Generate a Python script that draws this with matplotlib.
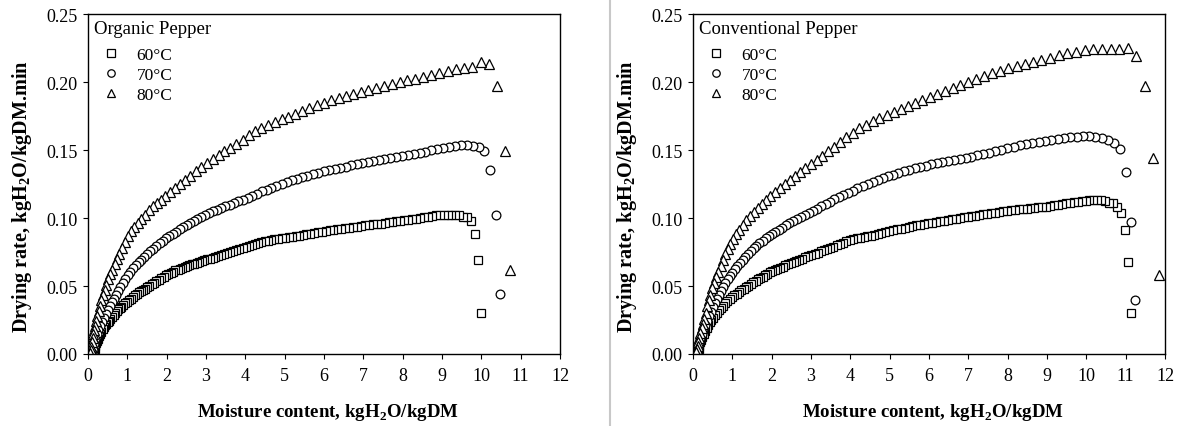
import matplotlib
matplotlib.use("Agg")
import matplotlib.pyplot as plt
from matplotlib.lines import Line2D

plt.rcParams['font.family'] = ['Liberation Serif', 'DejaVu Serif']
plt.rcParams['mathtext.fontset'] = 'custom'
plt.rcParams['mathtext.rm'] = 'Liberation Serif'
plt.rcParams['mathtext.bf'] = 'Liberation Serif:bold'

# (moisture content, drying rate)
org_60 = [
    (10.00, 0.030), (9.92, 0.069), (9.84, 0.088), (9.74, 0.0975), (9.64, 0.1005), (9.54, 0.101),
    (9.44, 0.102), (9.34, 0.1022), (9.24, 0.1024), (9.14, 0.1025), (9.04, 0.1025), (8.94, 0.1024),
    (8.84, 0.1020), (8.74, 0.1015), (8.64, 0.1010), (8.54, 0.1005), (8.44, 0.1000), (8.34, 0.0995),
    (8.24, 0.0990), (8.14, 0.0986), (8.04, 0.0983), (7.94, 0.0981), (7.84, 0.0978), (7.74, 0.0973),
    (7.64, 0.0968), (7.54, 0.0963), (7.44, 0.0958), (7.34, 0.0955), (7.24, 0.0953), (7.14, 0.0950),
    (7.04, 0.0945), (6.94, 0.0940), (6.84, 0.0935), (6.74, 0.0932), (6.64, 0.0928), (6.54, 0.0924),
    (6.44, 0.0920), (6.34, 0.0917), (6.24, 0.0913), (6.14, 0.0910), (6.04, 0.0905), (5.94, 0.0900),
    (5.84, 0.0895), (5.74, 0.0890), (5.64, 0.0885), (5.55, 0.0880), (5.46, 0.0875), (5.37, 0.0870),
    (5.28, 0.0866), (5.19, 0.0862), (5.10, 0.0858), (5.01, 0.0855), (4.92, 0.0852), (4.83, 0.0849),
    (4.74, 0.0846), (4.65, 0.0840), (4.57, 0.0834), (4.49, 0.0828), (4.41, 0.0822), (4.33, 0.0815),
    (4.25, 0.0808), (4.17, 0.0800), (4.09, 0.0792), (4.01, 0.0784), (3.93, 0.0777), (3.85, 0.0771),
    (3.77, 0.0764), (3.69, 0.0757), (3.61, 0.0750), (3.53, 0.0743), (3.45, 0.0736), (3.38, 0.0729),
    (3.31, 0.0723), (3.24, 0.0716), (3.17, 0.0709), (3.10, 0.0702), (3.03, 0.0695), (2.96, 0.0689),
    (2.89, 0.0682), (2.83, 0.0676), (2.77, 0.0670), (2.70, 0.0664), (2.64, 0.0660), (2.58, 0.0654),
    (2.52, 0.0647), (2.46, 0.0641), (2.40, 0.0635), (2.34, 0.0628), (2.28, 0.0621), (2.22, 0.0614),
    (2.16, 0.0606), (2.10, 0.0598), (2.04, 0.0588), (1.98, 0.0578), (1.92, 0.0567), (1.86, 0.0556),
    (1.80, 0.0545), (1.74, 0.0534), (1.68, 0.0523), (1.62, 0.0512), (1.56, 0.0501), (1.50, 0.0490),
    (1.45, 0.0481), (1.40, 0.0472), (1.35, 0.0463), (1.30, 0.0454), (1.25, 0.0443), (1.20, 0.0431),
    (1.15, 0.0420), (1.10, 0.0408), (1.05, 0.0396), (1.00, 0.0384), (0.95, 0.0372), (0.90, 0.0361),
    (0.85, 0.0349), (0.81, 0.0339), (0.77, 0.0330), (0.73, 0.0316), (0.69, 0.0302), (0.65, 0.0288),
    (0.61, 0.0274), (0.57, 0.0260), (0.53, 0.0246), (0.50, 0.0235), (0.47, 0.0224), (0.43, 0.0210),
    (0.40, 0.0196), (0.37, 0.0181), (0.34, 0.0165), (0.31, 0.0148), (0.28, 0.0130), (0.25, 0.0110),
    (0.23, 0.0095), (0.21, 0.0078), (0.19, 0.0060), (0.17, 0.0040), (0.15, 0.0015),
]
org_70 = [
    (10.47, 0.044), (10.37, 0.102), (10.22, 0.135), (10.08, 0.149), (9.93, 0.1524), (9.78, 0.1532),
    (9.63, 0.1536), (9.48, 0.1537), (9.33, 0.1532), (9.18, 0.1525), (9.03, 0.1516), (8.88, 0.1507),
    (8.73, 0.1497), (8.58, 0.1488), (8.43, 0.1479), (8.28, 0.1470), (8.13, 0.1462), (7.98, 0.1454),
    (7.83, 0.1446), (7.68, 0.1439), (7.53, 0.1433), (7.39, 0.1427), (7.25, 0.1420), (7.11, 0.1412),
    (6.97, 0.1404), (6.83, 0.1395), (6.69, 0.1387), (6.55, 0.1378), (6.41, 0.1370), (6.27, 0.1361),
    (6.13, 0.1351), (5.99, 0.1342), (5.85, 0.1332), (5.71, 0.1321), (5.57, 0.1310), (5.44, 0.1300),
    (5.31, 0.1289), (5.18, 0.1277), (5.05, 0.1265), (4.92, 0.1250), (4.79, 0.1236), (4.66, 0.1222),
    (4.54, 0.1209), (4.42, 0.1195), (4.30, 0.1180), (4.18, 0.1165), (4.06, 0.1150), (3.94, 0.1135),
    (3.82, 0.1122), (3.71, 0.1110), (3.60, 0.1098), (3.49, 0.1086), (3.38, 0.1074), (3.28, 0.1062),
    (3.18, 0.1048), (3.08, 0.1034), (2.98, 0.1019), (2.88, 0.1004), (2.78, 0.0989), (2.69, 0.0975),
    (2.60, 0.0962), (2.51, 0.0947), (2.42, 0.0932), (2.33, 0.0916), (2.24, 0.0900), (2.15, 0.0883),
    (2.06, 0.0866), (1.98, 0.0850), (1.90, 0.0832), (1.82, 0.0813), (1.74, 0.0794), (1.66, 0.0775),
    (1.58, 0.0755), (1.50, 0.0733), (1.43, 0.0713), (1.36, 0.0693), (1.29, 0.0676), (1.22, 0.0655),
    (1.15, 0.0630), (1.08, 0.0605), (1.01, 0.0578), (0.94, 0.0550), (0.88, 0.0522), (0.82, 0.0494),
    (0.76, 0.0465), (0.70, 0.0437), (0.65, 0.0408), (0.60, 0.0380), (0.55, 0.0352), (0.50, 0.0323),
    (0.45, 0.0295), (0.40, 0.0266), (0.35, 0.0236), (0.30, 0.0205), (0.26, 0.0180), (0.22, 0.0150),
    (0.18, 0.0110), (0.15, 0.0070), (0.12, 0.0030), (0.10, 0.0005),
]
org_80 = [
    (10.74, 0.062), (10.59, 0.149), (10.39, 0.197), (10.20, 0.213), (9.98, 0.2145), (9.77, 0.2110),
    (9.56, 0.2100), (9.35, 0.2092), (9.14, 0.2079), (8.93, 0.2066), (8.72, 0.2053), (8.52, 0.2040),
    (8.32, 0.2025), (8.12, 0.2012), (7.92, 0.2000), (7.72, 0.1983), (7.52, 0.1967), (7.32, 0.1953),
    (7.13, 0.1940), (6.94, 0.1927), (6.75, 0.1913), (6.56, 0.1898), (6.37, 0.1883), (6.18, 0.1866),
    (5.99, 0.1848), (5.81, 0.1829), (5.63, 0.1809), (5.45, 0.1789), (5.27, 0.1768), (5.09, 0.1746),
    (4.92, 0.1725), (4.75, 0.1705), (4.58, 0.1684), (4.41, 0.1662), (4.25, 0.1638), (4.09, 0.1613),
    (3.93, 0.1570), (3.77, 0.1543), (3.62, 0.1516), (3.47, 0.1489), (3.32, 0.1462), (3.17, 0.1434),
    (3.02, 0.1405), (2.88, 0.1375), (2.74, 0.1344), (2.60, 0.1312), (2.47, 0.1282), (2.34, 0.1252),
    (2.21, 0.1221), (2.09, 0.1191), (1.97, 0.1162), (1.86, 0.1136), (1.75, 0.1111), (1.64, 0.1085),
    (1.54, 0.1057), (1.44, 0.1025), (1.35, 0.0995), (1.26, 0.0965), (1.17, 0.0935), (1.09, 0.0903),
    (1.01, 0.0868), (0.94, 0.0822), (0.87, 0.0780), (0.80, 0.0738), (0.74, 0.0700), (0.68, 0.0660),
    (0.62, 0.0620), (0.57, 0.0585), (0.52, 0.0550), (0.47, 0.0510), (0.42, 0.0468), (0.38, 0.0432),
    (0.34, 0.0395), (0.305, 0.0355), (0.27, 0.0318), (0.24, 0.0283), (0.21, 0.0245), (0.18, 0.0208),
    (0.155, 0.0175), (0.135, 0.0150), (0.115, 0.0120), (0.095, 0.0085), (0.08, 0.0055), (0.07, 0.0030),
    (0.06, 0.0010),
]
conv_60 = [
    (11.14, 0.030), (11.07, 0.068), (10.98, 0.091), (10.88, 0.104), (10.78, 0.108), (10.68, 0.111),
    (10.58, 0.1112), (10.48, 0.1122), (10.38, 0.1130), (10.28, 0.1135), (10.18, 0.1136), (10.08, 0.1133),
    (9.98, 0.1128), (9.88, 0.1123), (9.78, 0.1119), (9.68, 0.1115), (9.58, 0.1111), (9.48, 0.1107),
    (9.38, 0.1103), (9.28, 0.1099), (9.18, 0.1094), (9.08, 0.1089), (8.98, 0.1084), (8.88, 0.1081),
    (8.78, 0.1078), (8.68, 0.1075), (8.58, 0.1072), (8.48, 0.1069), (8.38, 0.1066), (8.28, 0.1063),
    (8.18, 0.1060), (8.08, 0.1057), (7.98, 0.1053), (7.88, 0.1049), (7.78, 0.1045), (7.68, 0.1040),
    (7.58, 0.1035), (7.48, 0.1030), (7.38, 0.1026), (7.28, 0.1022), (7.18, 0.1017), (7.08, 0.1013),
    (6.98, 0.1008), (6.88, 0.1004), (6.78, 0.0999), (6.68, 0.0995), (6.58, 0.0990), (6.48, 0.0985),
    (6.38, 0.0980), (6.28, 0.0975), (6.18, 0.0970), (6.08, 0.0965), (5.98, 0.0960), (5.88, 0.0955),
    (5.78, 0.0950), (5.68, 0.0945), (5.58, 0.0940), (5.48, 0.0935), (5.38, 0.0929), (5.28, 0.0922),
    (5.18, 0.0916), (5.08, 0.0909), (4.98, 0.0902), (4.88, 0.0895), (4.79, 0.0888), (4.70, 0.0882),
    (4.61, 0.0877), (4.52, 0.0871), (4.43, 0.0866), (4.34, 0.0861), (4.25, 0.0856), (4.16, 0.0850),
    (4.07, 0.0844), (3.98, 0.0838), (3.89, 0.0831), (3.81, 0.0818), (3.73, 0.0808), (3.65, 0.0799),
    (3.57, 0.0790), (3.49, 0.0781), (3.41, 0.0772), (3.33, 0.0762), (3.25, 0.0754), (3.17, 0.0745),
    (3.09, 0.0736), (3.01, 0.0728), (2.93, 0.0719), (2.85, 0.0711), (2.77, 0.0702), (2.70, 0.0694),
    (2.63, 0.0686), (2.56, 0.0678), (2.49, 0.0669), (2.42, 0.0660), (2.35, 0.0651), (2.28, 0.0642),
    (2.21, 0.0634), (2.14, 0.0625), (2.08, 0.0617), (2.01, 0.0609), (1.95, 0.0600), (1.89, 0.0590),
    (1.83, 0.0580), (1.77, 0.0569), (1.71, 0.0558), (1.65, 0.0548), (1.59, 0.0537), (1.53, 0.0526),
    (1.47, 0.0515), (1.41, 0.0503), (1.35, 0.0491), (1.29, 0.0480), (1.23, 0.0468), (1.17, 0.0456),
    (1.11, 0.0444), (1.05, 0.0431), (0.99, 0.0418), (0.93, 0.0404), (0.87, 0.0389), (0.82, 0.0373),
    (0.77, 0.0355), (0.72, 0.0338), (0.67, 0.0320), (0.62, 0.0302), (0.57, 0.0284), (0.52, 0.0266),
    (0.47, 0.0248), (0.43, 0.0233), (0.39, 0.0212), (0.35, 0.0190), (0.31, 0.0168), (0.27, 0.0145),
    (0.24, 0.0124), (0.21, 0.0104), (0.18, 0.0086), (0.16, 0.0060), (0.14, 0.0035), (0.12, 0.0012),
]
conv_70 = [
    (11.23, 0.040), (11.14, 0.097), (11.00, 0.134), (10.86, 0.151), (10.71, 0.155), (10.55, 0.1574),
    (10.39, 0.1588), (10.23, 0.1597), (10.07, 0.1600), (9.91, 0.1600), (9.75, 0.1597), (9.59, 0.1593),
    (9.43, 0.1588), (9.27, 0.1582), (9.11, 0.1575), (8.95, 0.1568), (8.79, 0.1560), (8.63, 0.1552),
    (8.47, 0.1543), (8.31, 0.1534), (8.15, 0.1524), (7.99, 0.1512), (7.83, 0.1499), (7.68, 0.1490),
    (7.53, 0.1480), (7.38, 0.1470), (7.23, 0.1461), (7.08, 0.1452), (6.93, 0.1444), (6.78, 0.1436),
    (6.63, 0.1428), (6.48, 0.1420), (6.34, 0.1412), (6.20, 0.1404), (6.06, 0.1395), (5.92, 0.1386),
    (5.78, 0.1377), (5.64, 0.1367), (5.50, 0.1356), (5.36, 0.1344), (5.22, 0.1332), (5.09, 0.1319),
    (4.96, 0.1306), (4.83, 0.1291), (4.70, 0.1276), (4.57, 0.1262), (4.44, 0.1248), (4.31, 0.1233),
    (4.18, 0.1217), (4.06, 0.1201), (3.94, 0.1185), (3.82, 0.1170), (3.70, 0.1154), (3.59, 0.1138),
    (3.48, 0.1121), (3.37, 0.1103), (3.26, 0.1085), (3.15, 0.1068), (3.04, 0.1051), (2.94, 0.1036),
    (2.84, 0.1021), (2.74, 0.1006), (2.64, 0.0992), (2.54, 0.0977), (2.45, 0.0962), (2.36, 0.0946),
    (2.27, 0.0930), (2.18, 0.0913), (2.09, 0.0896), (2.01, 0.0880), (1.93, 0.0865), (1.85, 0.0850),
    (1.77, 0.0833), (1.69, 0.0815), (1.61, 0.0796), (1.54, 0.0777), (1.47, 0.0756), (1.40, 0.0735),
    (1.33, 0.0713), (1.26, 0.0693), (1.19, 0.0672), (1.12, 0.0649), (1.06, 0.0623), (1.00, 0.0598),
    (0.94, 0.0574), (0.88, 0.0548), (0.82, 0.0521), (0.76, 0.0493), (0.70, 0.0464), (0.65, 0.0436),
    (0.60, 0.0404), (0.55, 0.0373), (0.50, 0.0342), (0.45, 0.0310), (0.40, 0.0278), (0.35, 0.0246),
    (0.30, 0.0212), (0.26, 0.0180), (0.22, 0.0145), (0.19, 0.0112), (0.16, 0.0078), (0.13, 0.0042),
    (0.11, 0.0015),
]
conv_80 = [
    (11.84, 0.058), (11.69, 0.144), (11.49, 0.197), (11.27, 0.219), (11.06, 0.225), (10.84, 0.2240),
    (10.62, 0.2243), (10.40, 0.2245), (10.18, 0.2243), (9.96, 0.2236), (9.74, 0.2223), (9.52, 0.2210),
    (9.30, 0.2195), (9.08, 0.2178), (8.86, 0.2161), (8.65, 0.2145), (8.44, 0.2130), (8.23, 0.2115),
    (8.02, 0.2100), (7.81, 0.2084), (7.60, 0.2066), (7.40, 0.2046), (7.20, 0.2022), (7.00, 0.1998),
    (6.80, 0.1976), (6.60, 0.1955), (6.40, 0.1936), (6.21, 0.1914), (6.02, 0.1892), (5.83, 0.1869),
    (5.64, 0.1848), (5.46, 0.1827), (5.28, 0.1805), (5.10, 0.1782), (4.92, 0.1759), (4.74, 0.1735),
    (4.57, 0.1712), (4.40, 0.1687), (4.23, 0.1660), (4.06, 0.1627), (3.90, 0.1592), (3.74, 0.1558),
    (3.59, 0.1524), (3.44, 0.1490), (3.29, 0.1455), (3.14, 0.1423), (3.00, 0.1394), (2.86, 0.1366),
    (2.72, 0.1338), (2.59, 0.1310), (2.46, 0.1281), (2.33, 0.1252), (2.21, 0.1221), (2.09, 0.1192),
    (1.97, 0.1163), (1.86, 0.1133), (1.75, 0.1102), (1.65, 0.1073), (1.55, 0.1044), (1.45, 0.1017),
    (1.36, 0.0985), (1.27, 0.0950), (1.18, 0.0914), (1.10, 0.0879), (1.02, 0.0846), (0.95, 0.0808),
    (0.88, 0.0769), (0.82, 0.0732), (0.76, 0.0694), (0.70, 0.0650), (0.64, 0.0603), (0.59, 0.0563),
    (0.54, 0.0523), (0.49, 0.0482), (0.44, 0.0435), (0.40, 0.0395), (0.36, 0.0354), (0.32, 0.0305),
    (0.28, 0.0258), (0.25, 0.0222), (0.22, 0.0188), (0.19, 0.0153), (0.16, 0.0120), (0.135, 0.0090),
    (0.115, 0.0062), (0.095, 0.0035), (0.08, 0.0012),
]

temps = ['60°C', '70°C', '80°C']
panels = [('Organic Pepper', [org_60, org_70, org_80]),
          ('Conventional Pepper', [conv_60, conv_70, conv_80])]
markers = [('s', 6.0), ('o', 6.3), ('^', 6.8)]

fig = plt.figure(figsize=(11.92, 4.27), dpi=100)
lefts = [88 / 1192, 693 / 1192]

for left, (title, series) in zip(lefts, panels):
    ax = fig.add_axes([left, 72 / 427, 472 / 1192, 340 / 427])
    for data, (m, ms), lab in zip(series, markers, temps):
        xs = [p[0] for p in data]
        ys = [p[1] for p in data]
        ax.plot(xs, ys, linestyle='none', marker=m, markersize=ms,
                markerfacecolor='white', markeredgecolor='black',
                markeredgewidth=0.9, label=lab)
    ax.set_xlim(0, 12)
    ax.set_ylim(0, 0.25)
    ax.set_xticks(range(0, 13))
    ax.set_yticks([0.0, 0.05, 0.10, 0.15, 0.20, 0.25])
    ax.set_yticklabels(['%.2f' % v for v in [0.0, 0.05, 0.10, 0.15, 0.20, 0.25]])
    ax.tick_params(direction='out', length=3.5, width=0.8, labelsize=13)
    ax.tick_params(axis='x', pad=6)
    ax.tick_params(axis='y', pad=4)
    for sp in ax.spines.values():
        sp.set_linewidth(1.0)
    ax.set_xlabel(r'Moisture content, kgH$_\mathbf{2}$O/kgDM',
                  fontsize=13.6, fontweight='bold', labelpad=12)
    ax.set_ylabel(r'Drying rate, kgH$_\mathbf{2}$O/kgDM.min',
                  fontsize=14.6, fontweight='bold', labelpad=9)
    ax.xaxis.label.set_x(0.509)
    ax.yaxis.label.set_y(0.465)
    leg = ax.legend(title=title, loc='upper left', frameon=False, fontsize=12.5,
                    title_fontsize=13.5, alignment='left', handlelength=2.0,
                    handletextpad=0.45, borderaxespad=0.2, borderpad=0.15,
                    labelspacing=0.22, numpoints=1, markerscale=0.85)
    leg._legend_box.sep = 7

fig.add_artist(Line2D([610 / 1192, 610 / 1192], [0, 1], color='#c8c8c8', lw=1.5))

fig.savefig('out.png', dpi=100)
